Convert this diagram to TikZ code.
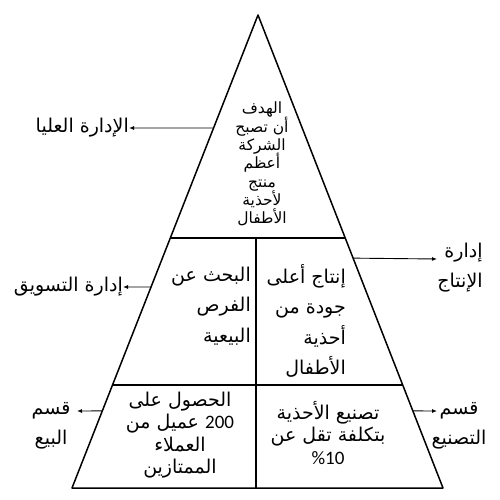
\documentclass[tikz,border=0pt]{standalone}
\usepackage{fontspec}
\newfontfamily\arabicfont[Script=Arabic]{DejaVu Sans}
\newfontfamily\numfont{Carlito}
\TeXXeTstate=1
\newcommand\tightlines{\lineskiplimit-50pt\relax}
\usetikzlibrary{arrows.meta}
\usetikzlibrary{calc}
\tikzset{
	pyr_line/.style = {line width=1.5pt, line join=round},
	side_arr/.style = {-{Latex[length=5pt,width=4pt]}, line width=0.9pt},
	ar_txt/.style = {inner sep=0pt, align=center,
		font=\arabicfont\fontsize{19}{17.6}\selectfont\tightlines},% texte arabe
	ar_top/.style = {ar_txt, font=\arabicfont\fontsize{15.5}{18.3}\selectfont\tightlines},% sommet
	ar_mid/.style = {ar_txt, align=right,
		font=\arabicfont\fontsize{19}{30.5}\selectfont\tightlines},% niveau milieu
	ar_bot/.style = {ar_txt, font=\arabicfont\fontsize{19}{22.5}\selectfont\tightlines},% niveau bas
	ar_side/.style = {ar_txt, font=\arabicfont\fontsize{19}{30}\selectfont\tightlines}% etiquettes
}

\begin{document}
\begin{tikzpicture}[x=1pt,y=-1pt]
	\useasboundingbox (0,0) rectangle (500,500);
	% pyramide
	\coordinate (apex) at (258,15);
	\coordinate (bl) at (72,488);
	\coordinate (br) at (443,488);
	\draw[pyr_line] (apex) -- (bl) -- (br) -- cycle;
	\draw[pyr_line] ($(apex)!0.4715!(bl)$) coordinate (d1l) -- ($(apex)!0.4715!(br)$) coordinate (d1r);
	\draw[pyr_line] ($(apex)!0.7822!(bl)$) coordinate (d2l) -- ($(apex)!0.7822!(br)$) coordinate (d2r);
	\coordinate (vtop) at (256,238);
	\coordinate (vbot) at (256,488);
	\draw[pyr_line] (vtop) -- (vbot);
	% textes des niveaux
	\node[ar_top] (goal) at (262,164) {\beginR الهدف\endR\\ \beginR أن تصبح\endR\\ \beginR الشركة\endR\\
		\beginR أعظم\endR\\ \beginR منتج\endR\\ \beginR لأحذية\endR\\ \beginR الأطفال\endR};
	\node[ar_mid, anchor=east] (mktgoal) at (251,306) {\beginR البحث عن\endR\\ \beginR الفرص\endR\hspace{4pt}\\ \beginR البيعية\endR\hspace{8pt}};
	\node[ar_mid, anchor=east] (prodgoal) at (346,321) {\beginR إنتاج أعلى\endR\\ \beginR جودة من\endR\\
		\beginR أحذية\endR\\ \beginR الأطفال\endR};
	\node[ar_bot] (salegoal) at (180,435) {\beginR الحصول على\endR\\ \beginR \beginL{\numfont 200}\endL{} عميل من\endR\\
		\beginR العملاء\endR\\ \beginR الممتازين\endR};
	\node[ar_bot] (mfggoal) at (328,433) {\beginR تصنيع الأحذية\endR\\ \beginR بتكلفة تقل عن\endR\\
		\beginL{\numfont\%10}\endL{}};
	% etiquettes laterales
	\node[ar_txt, anchor=east] (topmgmt) at (129,128) {\beginR الإدارة العليا\endR};
	\node[ar_txt, anchor=east] (mktmgmt) at (123,287) {\beginR إدارة التسويق\endR};
	\node[ar_side, align=right] (prodmgmt) at (460,268) {\beginR إدارة\endR\\ \beginR الإنتاج\endR};
	\node[ar_side] (saledep) at (51,426) {\beginR قسم\endR\\ \beginR البيع\endR};
	\node[ar_side] (mfgdep) at (459,426) {\beginR قسم\endR\\ \beginR التصنيع\endR};
	% fleches
	\coordinate (prodtip) at (437,259);
	\coordinate (saletip) at (77,411);
	\coordinate (mfgtip) at (437,411);
	\draw[side_arr] ($(apex)!0.239!(bl)$) -- (topmgmt.east);
	\draw[side_arr] ($(apex)!0.575!(bl)$) -- (mktmgmt.east);
	\draw[side_arr] ($(apex)!0.514!(br)$) -- (prodtip);
	\draw[side_arr] ($(apex)!0.837!(bl)$) -- (saletip);
	\draw[side_arr] ($(apex)!0.837!(br)$) -- (mfgtip);
\end{tikzpicture}
\end{document}
